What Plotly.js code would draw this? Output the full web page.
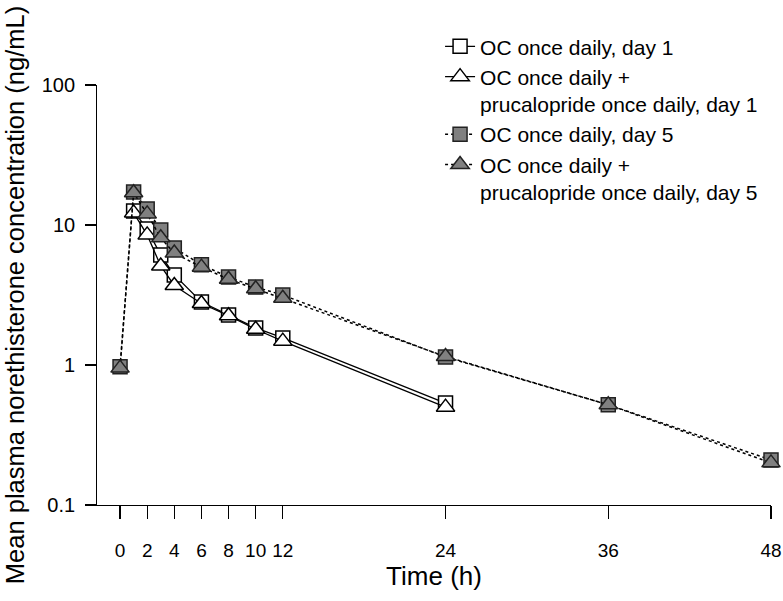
<!DOCTYPE html>
<html>
<head>
<meta charset="utf-8">
<script src="https://cdn.plot.ly/plotly-3.0.1.min.js"></script>
<style>html,body{margin:0;padding:0;background:#fff;}#chart{width:783px;height:601px;}</style>
</head>
<body>
<div id="chart"></div>
<script>
// Time points (h)
var timeDay1 = [1, 2, 3, 4, 6, 8, 10, 12, 24];
var timeDay5 = [0, 1, 2, 3, 4, 6, 8, 10, 12, 24, 36, 48];
// Mean plasma norethisterone concentration (ng/mL)
var ocDay1 = [12.6, 9.35, 6.1, 4.4, 2.82, 2.28, 1.84, 1.56, 0.535];
var ocPruDay1 = [12.2, 8.5, 5.1, 3.7, 2.75, 2.25, 1.8, 1.48, 0.50];
var ocDay5 = [0.97, 17.2, 13.0, 9.2, 6.85, 5.2, 4.25, 3.6, 3.16, 1.14, 0.52, 0.21];
var ocPruDay5 = [0.95, 17.0, 12.0, 8.1, 6.3, 5.0, 4.1, 3.5, 3.0, 1.15, 0.52, 0.20];
// Labels
var seriesNames = [
  'OC once daily, day 1',
  'OC once daily +<br>prucalopride once daily, day 1',
  'OC once daily, day 5',
  'OC once daily +<br>prucalopride once daily, day 5'
];
var xTickVals = [0, 2, 4, 6, 8, 10, 12, 24, 36, 48];
var yTickVals = [0.1, 1, 10, 100];
var yTickText = ['0.1', '1', '10', '100'];

var FONT = 'Liberation Sans, Arial, Helvetica, sans-serif';

var traces = [
  {x: timeDay1, y: ocDay1, name: seriesNames[0], type: 'scatter', mode: 'lines+markers', cliponaxis: false,
   line: {color: '#000', width: 1.3},
   marker: {symbol: 'square', size: 14, color: '#fff', line: {color: '#000', width: 1.5}}},
  {x: timeDay1, y: ocPruDay1, name: seriesNames[1], type: 'scatter', mode: 'lines+markers', cliponaxis: false,
   line: {color: '#000', width: 1.3},
   marker: {symbol: 'triangle-up', size: 16, color: '#fff', line: {color: '#000', width: 1.5}}},
  {x: timeDay5, y: ocDay5, name: seriesNames[2], type: 'scatter', mode: 'lines+markers', cliponaxis: false,
   line: {color: '#000', width: 1.5, dash: '3px,3px'},
   marker: {symbol: 'square', size: 14, color: '#808080', line: {color: '#222', width: 1.5}}},
  {x: timeDay5, y: ocPruDay5, name: seriesNames[3], type: 'scatter', mode: 'lines+markers', cliponaxis: false,
   line: {color: '#000', width: 1.5, dash: '3px,3px'},
   marker: {symbol: 'triangle-up', size: 16, color: '#808080', line: {color: '#222', width: 1.5}}}
];

var layout = {
  width: 783, height: 601,
  margin: {l: 97, r: 12, t: 85, b: 96, pad: 0},
  paper_bgcolor: '#fff', plot_bgcolor: '#fff',
  font: {family: FONT, color: '#000', size: 20},
  showlegend: true,
  legend: {
    x: 0.509, xanchor: 'left', y: 1.14, yanchor: 'top',
    font: {family: FONT, size: 21, color: '#000'},
    valign: 'top', bgcolor: 'rgba(0,0,0,0)', tracegroupgap: 0, itemwidth: 30
  },
  xaxis: {
    range: [-1.7, 48], showgrid: false, zeroline: false,
    showline: true, linecolor: '#000', linewidth: 1.3,
    ticks: 'outside', ticklen: 13, tickwidth: 1.3, tickcolor: '#000',
    tickvals: xTickVals, ticktext: xTickVals.map(String),
    tickfont: {family: FONT, size: 19}, ticklabelstandoff: 15,
    title: {text: 'Time (h)', font: {family: FONT, size: 26}, standoff: 6},
    automargin: false
  },
  yaxis: {
    type: 'log', range: [-1, 2], showgrid: false, zeroline: false,
    showline: true, linecolor: '#000', linewidth: 1.3,
    ticks: 'outside', ticklen: 11, tickwidth: 1.3, tickcolor: '#000',
    tickvals: yTickVals, ticktext: yTickText.map(function (t) { return t + '\u00a0'; }),
    tickfont: {family: FONT, size: 20},
    title: {text: 'Mean plasma norethisterone concentration (ng/mL)', font: {family: FONT, size: 25.5}, standoff: 9},
    automargin: false
  }
};

Plotly.newPlot('chart', traces, layout, {staticPlot: true, displayModeBar: false});
</script>
</body>
</html>
